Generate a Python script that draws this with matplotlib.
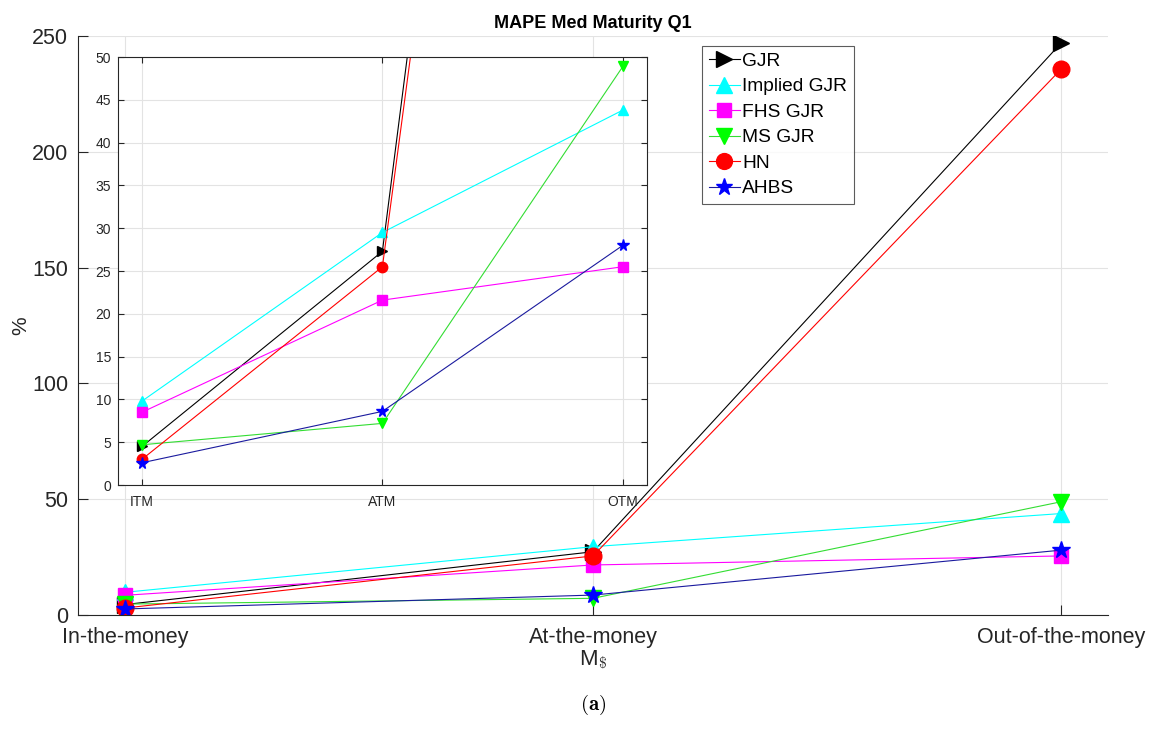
import matplotlib
matplotlib.use('Agg')
import matplotlib.pyplot as plt

plt.rcParams['font.family'] = ['Liberation Sans', 'DejaVu Sans']
plt.rcParams['mathtext.fontset'] = 'cm'

# MAPE (%) per moneyness bucket, medium maturity, Q1
categories = ['In-the-money', 'At-the-money', 'Out-of-the-money']
short_labels = ['ITM', 'ATM', 'OTM']
gjr = [4.5, 27.3, 247.0]
implied_gjr = [9.8, 29.5, 43.8]
fhs_gjr = [8.5, 21.6, 25.5]
ms_gjr = [4.7, 7.2, 48.9]
hn = [3.0, 25.5, 235.7]
ahbs = [2.6, 8.6, 28.0]

series = [
    ('GJR', gjr, '#000000', '>'),
    ('Implied GJR', implied_gjr, '#00ffff', '^'),
    ('FHS GJR', fhs_gjr, '#ff00ff', 's'),
    ('MS GJR', ms_gjr, '#00ff00', 'v'),
    ('HN', hn, '#ff0000', 'o'),
    ('AHBS', ahbs, '#0000ff', '*'),
]
line_cols = {'#0000ff': '#1a1a9e', '#00ff00': '#33dd33'}
msize_main = {'>': 12, '^': 12, 's': 10, 'v': 12, 'o': 12, '*': 13}
msize_in = {'>': 7.5, '^': 7.5, 's': 6.5, 'v': 7.5, 'o': 7.5, '*': 8.5}

x = [1, 2, 3]

fig = plt.figure(figsize=(11.56, 7.31), dpi=100)
ax = fig.add_axes([0.0675, 0.1587, 0.891, 0.7921])
for name, vals, col, mk in series:
    ax.plot(x, vals, color=line_cols.get(col, col), marker=mk, markersize=msize_main[mk],
            markeredgecolor=col, markerfacecolor=col, linewidth=0.8, label=name)

ax.set_xlim(0.9, 3.1)
ax.set_ylim(0, 250)
ax.set_xticks(x)
ax.set_xticklabels(categories)
ax.set_yticks(range(0, 251, 50))
ax.tick_params(direction='in', length=7, width=0.8, labelsize=15.5, colors='#262626', pad=7)
ax.tick_params(axis='x', pad=9)
ax.grid(True, color='#e3e3e3', linewidth=0.8)
ax.set_axisbelow(True)
for s in ['top', 'right']:
    ax.spines[s].set_visible(False)
for s in ['left', 'bottom']:
    ax.spines[s].set_color('#262626')
    ax.spines[s].set_linewidth(0.8)
ax.set_title('MAPE Med Maturity Q1', fontsize=13, fontweight='bold', pad=6)
ax.set_ylabel('%', fontsize=15, color='#262626', labelpad=1)
ax.set_xlabel(r'M$_\mathsf{\$}$', fontsize=16, color='#262626', labelpad=0)

leg = ax.legend(loc='upper left', bbox_to_anchor=(0.606, 0.983), fontsize=13.8,
                frameon=True, fancybox=False, edgecolor='#333333', borderpad=0.35,
                handlelength=1.6, handletextpad=0.15, labelspacing=0.42,
                borderaxespad=0, markerscale=0.95)
leg.get_frame().set_linewidth(0.8)

# zoomed view of the lower range
axin = fig.add_axes([0.102, 0.3365, 0.4576, 0.5855])
for name, vals, col, mk in series:
    axin.plot(x, vals, color=line_cols.get(col, col), marker=mk, markersize=msize_in[mk],
              markeredgecolor=col, markerfacecolor=col, linewidth=0.8)
axin.set_xlim(0.9, 3.1)
axin.set_ylim(0, 50)
axin.set_xticks(x)
axin.set_xticklabels(short_labels)
axin.set_yticks(range(0, 51, 5))
axin.tick_params(direction='in', length=4, width=0.8, labelsize=10, colors='#262626',
                 top=True, right=True, pad=5)
axin.tick_params(axis='x', pad=7)
axin.grid(True, color='#e3e3e3', linewidth=0.8)
axin.set_axisbelow(True)
for s in axin.spines.values():
    s.set_color('#262626')
    s.set_linewidth(0.8)

fig.text(0.513, 0.035, r'$\mathbf{(a)}$', ha='center', va='center', fontsize=15)

fig.savefig('out.png', dpi=100)
